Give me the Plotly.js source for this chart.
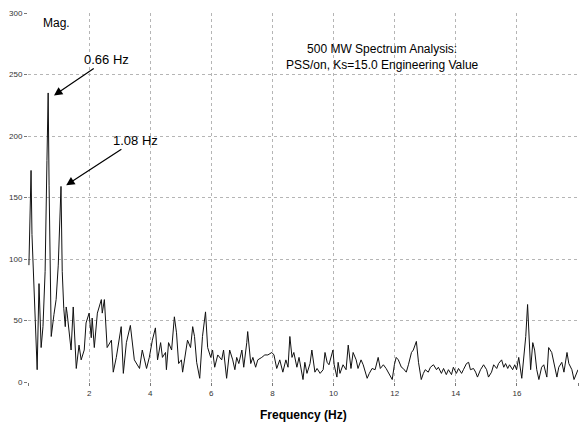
<!DOCTYPE html>
<html>
<head>
<meta charset="utf-8">
<script src="https://cdn.plot.ly/plotly-3.0.1.min.js"></script>
<style>html,body{margin:0;padding:0;background:#fff;}#chart{width:579px;height:423px;}</style>
</head>
<body>
<div id="chart"></div>
<script>
// Frequency (Hz) and magnitude
const freq = [
  0.03,0.10,0.13,0.30,0.36,0.43,0.49,0.56,0.62,0.66,0.69,0.72,0.76,0.85,0.92,0.99,1.05,1.08,1.12,1.17,
  1.22,1.25,1.28,1.41,1.48,1.58,1.67,1.74,1.84,1.90,2.00,2.07,2.10,2.17,2.27,2.40,2.43,2.50,2.59,2.73,
  2.79,2.89,3.05,3.12,3.22,3.35,3.48,3.65,3.74,3.88,
  3.97,4.07,4.17,4.24,4.34,4.40,4.50,4.53,4.60,4.70,4.79,4.86,4.93,5.02,5.06,5.16,5.22,5.32,5.39,5.45,
  5.52,5.62,5.71,5.81,5.88,5.98,6.04,6.11,6.21,6.34,6.40,6.50,6.60,6.70,6.77,6.83,6.90,7.00,7.06,7.16,
  7.19,7.29,7.36,7.45,7.52,7.65,7.75,7.85,7.98,8.05,8.14,8.24,8.34,8.44,8.51,
  8.57,8.64,8.70,8.80,8.87,9.00,9.06,9.13,9.23,9.29,9.39,9.46,9.56,9.66,9.72,9.79,9.85,9.98,10.02,10.11,
  10.15,10.21,10.31,10.41,10.48,10.57,10.64,10.74,10.80,10.90,10.97,11.10,11.17,11.26,11.36,11.46,11.53,11.63,11.72,11.82,
  11.92,11.99,12.05,12.12,12.22,12.28,12.38,12.45,12.55,12.61,12.71,12.78,12.87,12.94,13.00,13.10,
  13.17,13.27,13.37,13.43,13.53,13.60,13.69,13.76,13.86,13.92,14.02,14.09,14.19,14.25,14.35,14.42,14.48,14.58,14.65,14.71,
  14.81,14.91,15.01,15.07,15.17,15.24,15.34,15.40,15.50,15.57,15.63,15.70,15.76,15.86,15.93,15.99,16.06,16.16,16.22,16.29,
  16.35,16.39,16.45,16.52,16.58,16.65,16.72,16.81,16.88,16.98,17.04,17.14,17.21,17.31,17.37,17.47,17.54,17.64,17.70,17.80,
  17.87,18.00
];
const mag = [
  95,172,120,10,80,28,45,90,180,235,160,90,37,55,67,95,140,159,90,60,
  45,61,56,26,61,11,30,18,26,48,56,36,52,28,56,67,56,67,28,34,
  8,20,45,7,32,46,18,11,26,11,
  20,34,44,18,32,20,24,10,32,26,53,40,15,18,8,24,34,28,45,37,
  16,3,37,57,28,20,26,12,22,18,26,3,26,18,10,20,15,26,12,32,
  41,15,20,12,18,20,22,22,24,22,11,18,8,18,12,
  37,20,24,12,20,2,16,7,15,26,8,11,7,10,24,16,14,26,14,4,
  16,7,14,10,30,11,24,18,11,18,14,3,7,11,10,20,11,14,11,7,
  2,14,20,18,12,11,8,14,24,26,33,16,2,7,10,8,
  12,14,10,12,7,11,6,10,6,12,7,11,7,10,15,16,10,11,8,4,
  10,14,10,4,8,14,11,15,18,12,15,11,14,10,14,10,20,3,20,37,
  63,42,10,32,26,10,2,12,14,4,28,24,15,4,12,16,8,24,15,10,
  2,10
];
const xTickVals = [0,2,4,6,8,10,12,14,16,18];
const xTickText = ['','2','4','6','8','10','12','14','16','18'];
const yTickVals = [0,50,100,150,200,250,300];
const yTickText = ['0','50','100','150','200','250','300'];
const peakLabels = ['0.66 Hz','1.08 Hz'];
const peakTipFreq = [0.85,1.25];
const peakTipMag = [233,160];

const font = 'Liberation Sans, Arial, sans-serif';
const tickFont = {family: font, size: 8, color: '#333'};

const data = [{
  x: freq, y: mag, type: 'scatter', mode: 'lines',
  line: {color: '#111', width: 1}, hoverinfo: 'skip'
}];

const annotations = [
  {xref:'paper', yref:'paper', x:0.024, y:0.973, xanchor:'left', yanchor:'middle',
   text:'Mag.', showarrow:false, font:{family:font, size:12, color:'#000'}},
  {xref:'paper', yref:'paper', x:0.644, y:0.882, xanchor:'center', yanchor:'middle',
   text:'500 MW Spectrum Analysis:<br>PSS/on, Ks=15.0 Engineering Value', showarrow:false,
   font:{family:font, size:12, color:'#000'}},
  {xref:'paper', yref:'paper', x:0.5, y:0, xanchor:'center', yanchor:'middle', yshift:-33,
   text:'<b>Frequency (Hz)</b>', showarrow:false, font:{family:font, size:12, color:'#000'}},
  {xref:'x', yref:'y', x:peakTipFreq[0], y:peakTipMag[0], ax:53, ay:-36, text:peakLabels[0],
   showarrow:true, arrowhead:2, arrowsize:1.4, arrowwidth:1.2, arrowcolor:'#000',
   font:{family:font, size:13, color:'#000'}},
  {xref:'x', yref:'y', x:peakTipFreq[1], y:peakTipMag[1], ax:69, ay:-45, text:peakLabels[1],
   showarrow:true, arrowhead:2, arrowsize:1.4, arrowwidth:1.2, arrowcolor:'#000',
   font:{family:font, size:13, color:'#000'}}
];

const layout = {
  width: 579, height: 423,
  margin: {l: 28, r: 1, t: 13, b: 41},
  paper_bgcolor: '#fff', plot_bgcolor: '#fff',
  showlegend: false,
  xaxis: {
    range: [0, 18], tickmode: 'array', tickvals: xTickVals, ticktext: xTickText,
    showgrid: true, gridcolor: '#b5b5b5', griddash: 'dot', gridwidth: 1,
    zeroline: false, showline: false, ticks: 'outside', ticklen: 3, tickcolor: '#777',
    tickfont: tickFont, fixedrange: true
  },
  yaxis: {
    range: [0, 300], tickmode: 'array', tickvals: yTickVals, ticktext: yTickText,
    showgrid: true, gridcolor: '#b5b5b5', griddash: 'dot', gridwidth: 1,
    zeroline: false, showline: false, ticks: 'outside', ticklen: 3, tickcolor: '#777',
    tickfont: tickFont, fixedrange: true
  },
  annotations: annotations
};

Plotly.newPlot('chart', data, layout, {displayModeBar: false, staticPlot: true});
</script>
</body>
</html>
